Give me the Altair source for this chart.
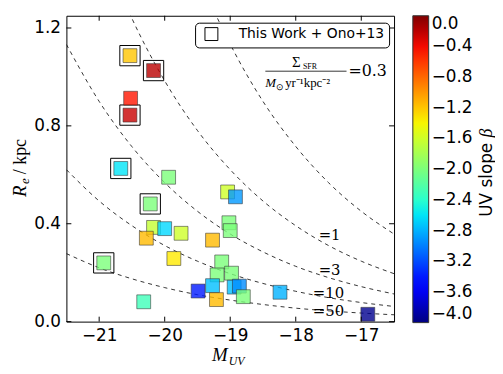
import altair as alt
import numpy as np
import pandas as pd

# ---------------- data ----------------
m_uv = [-20.53, -20.17, -20.52, -20.53, -20.67, -19.94, -20.22, -20.17, -20.00, -19.75,
        -20.28, -19.86, -20.93, -19.49, -20.32, -19.04, -18.92, -19.02, -19.00, -19.27,
        -19.13, -19.20, -18.98, -19.27, -19.21, -18.94, -18.86, -18.80, -18.24, -16.90]
r_e = [1.087, 1.026, 0.913, 0.844, 0.626, 0.590, 0.481, 0.385, 0.380, 0.361,
       0.341, 0.258, 0.240, 0.125, 0.081, 0.530, 0.510, 0.404, 0.372, 0.333,
       0.244, 0.191, 0.198, 0.147, 0.090, 0.141, 0.145, 0.102, 0.120, 0.030]
beta = [-1.20, -0.20, -0.45, -0.25, -2.60, -2.00, -2.00, -1.65, -2.65, -1.60,
        -1.15, -1.35, -2.00, -3.40, -2.30, -1.60, -2.90, -2.00, -2.00, -1.15,
        -2.00, -2.00, -2.00, -2.75, -1.15, -2.75, -2.95, -2.00, -2.80, -3.95]
boxed = [1, 1, 0, 1, 1, 0, 1, 0, 0, 0,
         0, 0, 1, 0, 0, 0, 0, 0, 0, 0,
         0, 0, 0, 0, 0, 0, 0, 0, 0, 0]
legend_label = "This Work + Ono+13"

# constant Sigma_SFR curves
curve_m = [-21.5, -21.0, -20.5, -20.0, -19.5, -19.0, -18.5, -18.0, -17.5, -17.0, -16.5]
curve_sig03 = [3.58, 2.85, 2.26, 1.797, 1.426, 1.134, 0.900, 0.716, 0.568, 0.451, 0.358]
curve_sig1 = [1.963, 1.559, 1.239, 0.984, 0.781, 0.621, 0.493, 0.392, 0.311, 0.247, 0.196]
curve_sig3 = [1.133, 0.900, 0.715, 0.568, 0.451, 0.358, 0.285, 0.226, 0.180, 0.143, 0.113]
curve_sig10 = [0.621, 0.493, 0.392, 0.311, 0.247, 0.196, 0.156, 0.124, 0.098, 0.078, 0.062]
curve_sig50 = [0.278, 0.220, 0.175, 0.139, 0.110, 0.088, 0.070, 0.055, 0.044, 0.035, 0.028]

curve_labels = ["=1", "=3", "=10", "=50"]
curve_label_m = [-17.65, -17.65, -17.74, -17.74]
curve_label_r = [0.352, 0.210, 0.115, 0.043]

x_ticks = [-21, -20, -19, -18, -17]
y_ticks = [0.0, 0.4, 0.8, 1.2]
cbar_ticks = [0.0, -0.4, -0.8, -1.2, -1.6, -2.0, -2.4, -2.8, -3.2, -3.6, -4.0]

# ---------------- tables ----------------
pts = pd.DataFrame({"m": m_uv, "r": r_e, "beta": beta, "boxed": boxed})
box_df = pts[pts["boxed"] == 1].copy()
box_df["src"] = legend_label

curves = []
for name, vals in [("0.3", curve_sig03), ("1", curve_sig1), ("3", curve_sig3),
                   ("10", curve_sig10), ("50", curve_sig50)]:
    for mm, rr in zip(curve_m, vals):
        curves.append({"m": mm, "r": rr, "sig": name})
curve_df = pd.DataFrame(curves)
lab_df = pd.DataFrame({"m": curve_label_m, "r": curve_label_r, "t": curve_labels})

# jet colormap (matplotlib segment data)
jet_t = [0, 0.11, 0.125, 0.34, 0.35, 0.375, 0.64, 0.65, 0.66, 0.89, 0.91, 1.0]
def jet(t):
    r = np.interp(t, [0, 0.35, 0.66, 0.89, 1], [0, 0, 1, 1, 0.5])
    g = np.interp(t, [0, 0.125, 0.375, 0.64, 0.91, 1], [0, 0, 1, 1, 0, 0])
    b = np.interp(t, [0, 0.11, 0.34, 0.65, 1], [0.5, 1, 1, 0, 0])
    return "#%02x%02x%02x" % (int(round(r * 255)), int(round(g * 255)), int(round(b * 255)))
jet_domain = [-4 + 4 * t for t in jet_t]
jet_range = [jet(t) for t in jet_t]

W, H = 331, 309
TICKFONT = "DejaVu Sans"
SERIF = "Liberation Serif"

xs = alt.Scale(domain=[-21.5, -16.5], nice=False, zero=False)
ys = alt.Scale(domain=[0, 1.25], nice=False, zero=False)
xaxis = alt.Axis(values=x_ticks, format="d", labelFontSize=17, labelFont=TICKFONT,
                 labelColor="black", ticks=False, domain=False, grid=False, title=None,
                 labelPadding=6)
yaxis = alt.Axis(values=y_ticks, format=".1f", labelFontSize=17, labelFont=TICKFONT,
                 labelColor="black", ticks=False, domain=False, grid=False, title=None,
                 labelPadding=6)
X = lambda: alt.X("m:Q", scale=xs, axis=xaxis)
Y = lambda: alt.Y("r:Q", scale=ys, axis=yaxis)

lines = alt.Chart(curve_df).mark_line(
    color="black", strokeWidth=0.8, strokeDash=[4, 4], clip=True, interpolate="monotone"
).encode(x=X(), y=Y(), detail="sig:N", order="m:Q")

boxes = alt.Chart(box_df).mark_point(
    shape="square", filled=False, size=420, color="black", strokeWidth=1, opacity=1
).encode(
    x=X(), y=Y(),
    shape=alt.Shape("src:N", scale=alt.Scale(range=["square"]),
                    legend=alt.Legend(title=None, orient="none", legendX=130, legendY=7,
                                      strokeColor="black", fillColor="white", cornerRadius=4,
                                      padding=4, symbolType="square", symbolSize=170,
                                      symbolStrokeColor="black", symbolFillColor="white",
                                      symbolStrokeWidth=1, symbolOffset=5, labelOffset=20,
                                      labelFontSize=14, labelFont=TICKFONT, labelColor="black")),
)

squares = alt.Chart(pts).mark_point(
    shape="square", filled=True, size=196, stroke="#333333", strokeWidth=0.8,
    fillOpacity=0.8, strokeOpacity=0.7
).encode(
    x=X(), y=Y(),
    fill=alt.Fill("beta:Q",
                  scale=alt.Scale(domain=jet_domain, range=jet_range, interpolate="rgb"),
                  legend=alt.Legend(title=None, orient="none", legendX=350, legendY=0,
                                    direction="vertical", gradientLength=310,
                                    gradientThickness=16, values=cbar_ticks, format=".1f",
                                    labelFontSize=17, labelFont=TICKFONT, labelColor="black",
                                    labelOffset=3, labelOverlap=False,
                                    gradientStrokeColor="#333333", gradientStrokeWidth=1,
                                    padding=0)),
)

# inward ticks
xt = pd.DataFrame({"m": x_ticks})
yt = pd.DataFrame({"r": y_ticks})
tick_top = alt.Chart(xt).mark_rule(color="black", strokeWidth=1).encode(
    x=X(), y=alt.value(0), y2=alt.value(5))
tick_bot = alt.Chart(xt).mark_rule(color="black", strokeWidth=1).encode(
    x=X(), y=alt.value(H), y2=alt.value(H - 5))
tick_l = alt.Chart(yt).mark_rule(color="black", strokeWidth=1).encode(
    y=Y(), x=alt.value(0), x2=alt.value(5))
tick_r = alt.Chart(yt).mark_rule(color="black", strokeWidth=1).encode(
    y=Y(), x=alt.value(W), x2=alt.value(W - 5))

clabels = alt.Chart(lab_df).mark_text(
    align="left", baseline="middle", font="DejaVu Serif", fontSize=15, color="black"
).encode(x=X(), y=Y(), text="t:N")

one = pd.DataFrame({"a": [0]})
def txt(text, x, y, size, font=SERIF, style="normal", angle=0, align="left",
        baseline="alphabetic"):
    return alt.Chart(one).mark_text(
        text=text, font=font, fontSize=size, fontStyle=style, angle=angle,
        align=align, baseline=baseline, color="black"
    ).encode(x=alt.value(x), y=alt.value(y))

annots = [
    # x title
    txt("M", 147, 349, 19, style="italic"),
    txt("UV", 164, 353, 12, style="italic"),
    # y title
    txt("R", -41, 183, 19, style="italic", angle=270),
    txt("e", -38, 170, 13, style="italic", angle=270),
    txt("/ kpc", -41, 160, 18, angle=270),
    # colorbar title
    txt("UV slope", 430, 203, 17, font=TICKFONT, angle=270),
    txt("\u03b2", 430, 123, 18, style="italic", angle=270),
    # Sigma_SFR fraction
    txt("\u03a3", 228, 52, 15),
    txt("SFR", 239, 54, 8),
    txt("M", 201, 72, 13, style="italic"),
    txt("\u2299", 212, 75, 9),
    txt("yr\u207b\u00b9kpc\u207b\u00b2", 221, 72, 13),
    txt("=0.3", 285, 56, 16, font="DejaVu Serif", baseline="middle"),
]
frac_bar = alt.Chart(one).mark_rule(color="black", strokeWidth=0.8).encode(
    x=alt.value(201), x2=alt.value(283), y=alt.value(56))

chart = alt.layer(
    lines, boxes, squares, tick_top, tick_bot, tick_l, tick_r, clabels, frac_bar, *annots
).properties(
    width=W, height=H,
    padding={"left": 59, "top": 6, "right": 102, "bottom": 44},
    autosize=alt.AutoSizeParams(type="none"),
    background="white",
).configure_view(stroke="black", strokeWidth=1)

chart.save("out.html", embed_options={"renderer": "svg", "actions": False})
